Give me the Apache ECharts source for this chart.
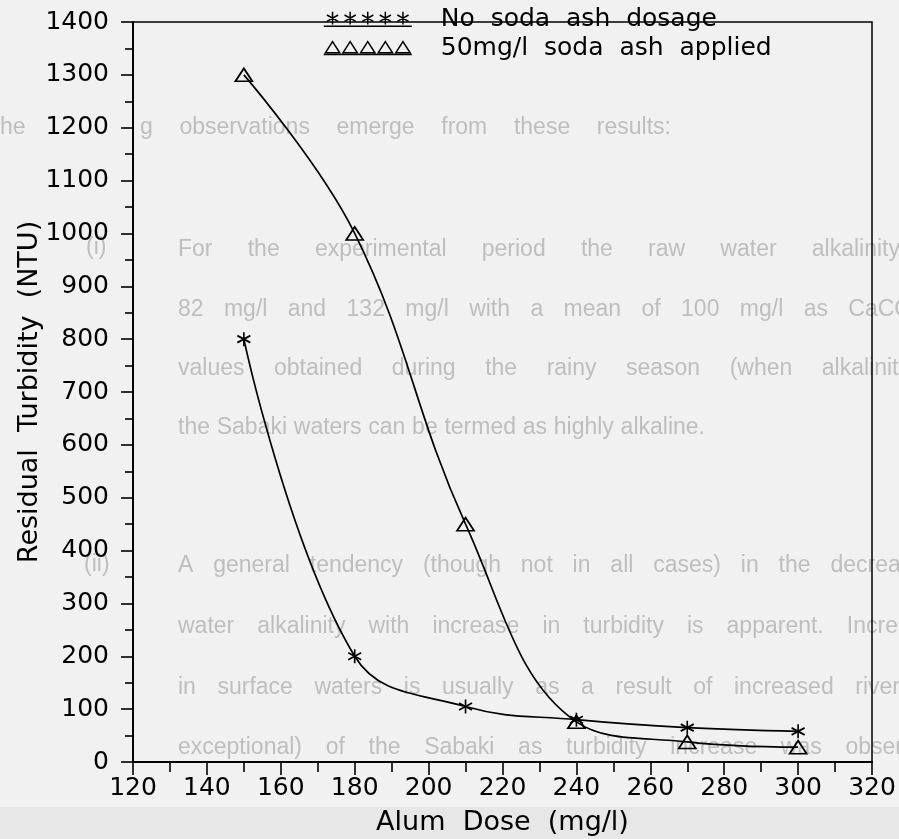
<!DOCTYPE html>
<html>
<head>
<meta charset="utf-8">
<script src="https://cdn.jsdelivr.net/npm/echarts@6/dist/echarts.min.js"></script>
<style>
  html, body { margin: 0; padding: 0; background: #f1f1f1; }
  #chart { width: 899px; height: 839px; }
</style>
</head>
<body>
<div id="chart"></div>
<script>
// Alum dose (mg/l) and residual turbidity (NTU) for the two jar-test runs
const alumDose = [150, 180, 210, 240, 270, 300];
const turbidityNoSoda = [800, 200, 105, 80, 65, 58];
const turbiditySodaAsh = [1300, 1000, 450, 76, 38, 28];
const seriesNames = ['No  soda  ash  dosage', '50mg/l  soda  ash  applied'];

// Axis ranges and tick steps
const xRange = [120, 320];
const xStep = 20;
const yRange = [0, 1400];
const yStep = 100;

// Report text printed on the page underneath the figure
const pageText = [
  'he',
  'g observations emerge from these results:',
  '(i)',
  'For the experimental period the raw water alkalinity',
  '82 mg/l and 132 mg/l with a mean of 100 mg/l as CaCO3',
  'values obtained during the rainy season (when alkalinity',
  'the Sabaki waters can be termed as highly alkaline.',
  '(ii)',
  'A general tendency (though not in all cases) in the decrease',
  'water alkalinity with increase in turbidity is apparent. Increase',
  'in surface waters is usually as a result of increased river',
  'exceptional) of the Sabaki as turbidity increase was observed'
];
// [left, right, middle-y] box for each line of page text (lines are justified inside)
const pageTextBox = [
  [0, 0, 128],
  [140, 671, 128],
  [86, 0, 248],
  [178, 900, 250],
  [178, 925, 310],
  [178, 910, 369],
  [178, 705, 428],
  [84, 0, 565],
  [178, 925, 566],
  [178, 935, 627],
  [178, 900, 688],
  [178, 940, 748]
];

const PAGE_FONT_SIZE = 23;
const PAGE_FONT_FAMILY = 'Liberation Sans';
const PAGE_INK = '#bebebe';
const CHART_FONT = 'DejaVu Sans';

// Spread the words of a line across its box, like justified typesetting
function justifiedWords(text, box) {
  const ctx = document.createElement('canvas').getContext('2d');
  ctx.font = PAGE_FONT_SIZE + 'px "' + PAGE_FONT_FAMILY + '"';
  const words = text.split(' ');
  const widths = words.map(w => ctx.measureText(w).width);
  const total = widths.reduce((a, b) => a + b, 0);
  const [x0, x1, y] = box;
  let gap = ctx.measureText(' ').width;
  if (x1 > x0 && words.length > 1) {
    gap = Math.max(gap, (x1 - x0 - total) / (words.length - 1));
  }
  const out = [];
  let x = x0;
  words.forEach((w, i) => {
    out.push({
      type: 'text',
      x: x,
      y: y,
      silent: true,
      z: -10,
      style: {
        text: w,
        fill: PAGE_INK,
        fontSize: PAGE_FONT_SIZE,
        fontFamily: PAGE_FONT_FAMILY,
        verticalAlign: 'middle',
        align: 'left'
      }
    });
    x += widths[i] + gap;
  });
  return out;
}

const pageGraphics = [];
pageText.forEach((t, i) => pageGraphics.push(...justifiedWords(t, pageTextBox[i])));
// grey band of the lower page margin
pageGraphics.unshift({
  type: 'rect', silent: true, z: -20,
  shape: { x: 0, y: 807, width: 899, height: 32 },
  style: { fill: '#e7e7e7' }
});

// Legend swatches: a row of five markers on a base line
function markerRowPath(kind) {
  let d = '';
  for (let i = 0; i < 5; i++) {
    const cx = 11 + 22 * i;
    if (kind === 'star') {
      d += 'M' + cx + ',0L' + cx + ',16'
         + 'M' + (cx - 7) + ',4L' + (cx + 7) + ',12'
         + 'M' + (cx - 7) + ',12L' + (cx + 7) + ',4';
    } else {
      d += 'M' + (cx - 9) + ',16L' + cx + ',2L' + (cx + 9) + ',16Z';
    }
  }
  d += 'M0,18L110,18';
  return 'path://' + d;
}

const asteriskSymbol = 'path://M0,-10L0,10M-8.66,-5L8.66,5M-8.66,5L8.66,-5';

const chart = echarts.init(document.getElementById('chart'), null, { renderer: 'canvas' });

const axisText = {
  color: '#000', fontFamily: CHART_FONT, fontSize: 25,
  formatter: v => String(v)
};

chart.setOption({
  backgroundColor: '#f1f1f1',
  animation: false,
  graphic: { elements: pageGraphics },
  grid: {
    left: 133, right: 27, top: 22, bottom: 77,
    outerBoundsMode: 'none',
    containLabel: false,
    show: true, borderColor: '#000', borderWidth: 1.5,
    backgroundColor: 'transparent'
  },
  legend: {
    orient: 'vertical',
    left: 318,
    top: 1,
    itemWidth: 88,
    itemHeight: 17,
    itemGap: 3,
    selectedMode: false,
    textStyle: {
      color: '#000', fontFamily: CHART_FONT, fontSize: 25,
      lineHeight: 26,
      padding: [0, 0, 0, 24]
    },
    data: [
      {
        name: seriesNames[0],
        icon: markerRowPath('star'),
        itemStyle: { color: 'transparent', borderColor: '#000', borderWidth: 1.5 }
      },
      {
        name: seriesNames[1],
        icon: markerRowPath('triangle'),
        itemStyle: { color: 'transparent', borderColor: '#000', borderWidth: 1.5 }
      }
    ]
  },
  xAxis: {
    type: 'value',
    min: xRange[0], max: xRange[1], interval: xStep,
    name: 'Alum  Dose  (mg/l)',
    nameLocation: 'middle',
    nameGap: 47,
    nameMoveOverlap: false,
    nameTextStyle: { color: '#000', fontFamily: CHART_FONT, fontSize: 27 },
    axisLine: { lineStyle: { color: '#000', width: 2 } },
    axisTick: { length: 13, lineStyle: { color: '#000', width: 1.6 } },
    minorTick: { show: true, splitNumber: 2, length: 10, lineStyle: { color: '#000', width: 1.6 } },
    axisLabel: Object.assign({ margin: 14 }, axisText),
    splitLine: { show: false }
  },
  yAxis: {
    type: 'value',
    min: yRange[0], max: yRange[1], interval: yStep,
    name: 'Residual  Turbidity  (NTU)',
    nameLocation: 'middle',
    nameGap: 90,
    nameMoveOverlap: false,
    nameTextStyle: { color: '#000', fontFamily: CHART_FONT, fontSize: 27 },
    axisLine: { lineStyle: { color: '#000', width: 2 } },
    axisTick: { length: 12, lineStyle: { color: '#000', width: 1.6 } },
    minorTick: { show: true, splitNumber: 2, length: 8, lineStyle: { color: '#000', width: 1.6 } },
    axisLabel: Object.assign({ margin: 24 }, axisText),
    splitLine: { show: false }
  },
  series: [
    {
      name: seriesNames[0],
      type: 'line',
      data: alumDose.map((x, i) => [x, turbidityNoSoda[i]]),
      smooth: 0.4,
      symbol: asteriskSymbol,
      symbolSize: [13, 14],
      showAllSymbol: true,
      lineStyle: { color: '#000', width: 1.7 },
      itemStyle: { color: '#000', borderColor: '#000', borderWidth: 1.7 },
      emphasis: { disabled: true },
      z: 3
    },
    {
      name: seriesNames[1],
      type: 'line',
      data: alumDose.map((x, i) => [x, turbiditySodaAsh[i]]),
      smooth: 0.4,
      symbol: 'triangle',
      symbolSize: [17, 13],
      showAllSymbol: true,
      lineStyle: { color: '#000', width: 1.7 },
      itemStyle: { color: 'transparent', borderColor: '#000', borderWidth: 1.7 },
      emphasis: { disabled: true },
      z: 3
    }
  ]
});
</script>
</body>
</html>
